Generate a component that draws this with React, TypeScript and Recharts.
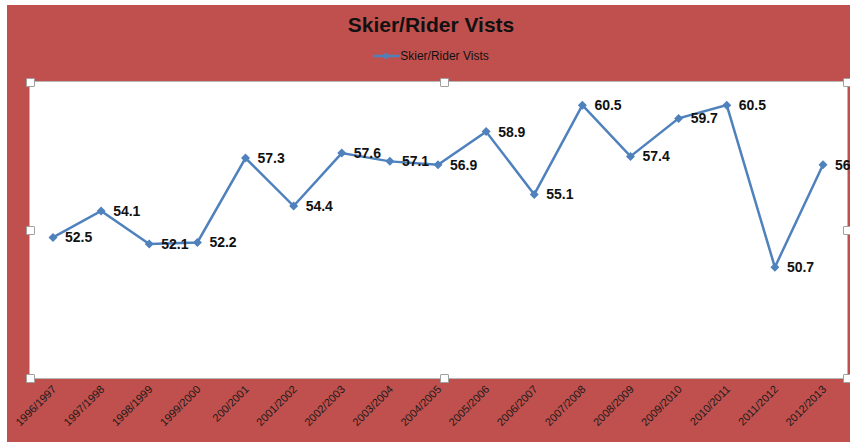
import { LineChart, Line, XAxis, YAxis, CartesianGrid, Legend, LabelList } from 'recharts';

const seasons = [
  '1996/1997', '1997/1998', '1998/1999', '1999/2000', '200/2001', '2001/2002',
  '2002/2003', '2003/2004', '2004/2005', '2005/2006', '2006/2007', '2007/2008',
  '2008/2009', '2009/2010', '2010/2011', '2011/2012', '2012/2013',
];
const visits = [52.5, 54.1, 52.1, 52.2, 57.3, 54.4, 57.6, 57.1, 56.9, 58.9, 55.1, 60.5, 57.4, 59.7, 60.5, 50.7, 56.9];

const SERIES_NAME = 'Skier/Rider Vists';
const BLUE = '#4F81BD';
const RED = '#C0504D';
const FONT = 'Arial, "Liberation Sans", sans-serif';

const data = seasons.map((season, i) => ({ season, visits: visits[i] }));

// plot area box (matches chart margins below)
const PLOT = { left: 30, top: 82, right: 847, bottom: 378 };

const Diamond = (props: any) => {
  const { cx, cy } = props;
  if (cx == null || cy == null) return null;
  const r = 4.5;
  return <path d={`M${cx},${cy - r}L${cx + r},${cy}L${cx},${cy + r}L${cx - r},${cy}Z`} fill={BLUE} />;
};

const RotatedTick = (props: any) => {
  const { x, y, payload } = props;
  return (
    <text
      x={x + 4}
      y={y + 4}
      transform={`rotate(-45, ${x + 4}, ${y + 4})`}
      textAnchor="end"
      fontSize={11}
      fontFamily={FONT}
      fill="#1a1a1a"
    >
      {payload.value}
    </text>
  );
};

const PointLabel = (props: any) => {
  const { x, y, value } = props;
  return (
    <text x={x + 12} y={y} dy="0.35em" fontSize={14} fontWeight="bold" fontFamily={FONT} fill="#111">
      {value}
    </text>
  );
};

const LegendContent = () => (
  <div style={{ display: 'flex', justifyContent: 'center', alignItems: 'center', fontFamily: FONT, fontSize: 12, color: '#111' }}>
    <svg width={26} height={10} style={{ marginRight: 1 }}>
      <line x1={0} y1={5} x2={26} y2={5} stroke={BLUE} strokeWidth={2.5} />
      <path d="M13,1.5L16.5,5L13,8.5L9.5,5Z" fill={BLUE} />
    </svg>
    <span>{SERIES_NAME}</span>
  </div>
);

const Handle = ({ x, y }: { x: number; y: number }) => (
  <div
    style={{
      position: 'absolute',
      left: x - 4,
      top: y - 4,
      width: 7,
      height: 7,
      background: '#fff',
      border: '1px solid #a0a0a0',
      borderRadius: 1,
    }}
  />
);

export default function App() {
  const midX = (PLOT.left + PLOT.right) / 2 + 5;
  const midY = (PLOT.top + PLOT.bottom) / 2;
  const handles = [
    [PLOT.left, PLOT.top], [midX, PLOT.top], [PLOT.right, PLOT.top],
    [PLOT.left, midY], [PLOT.right, midY],
    [PLOT.left, PLOT.bottom], [midX, PLOT.bottom], [PLOT.right, PLOT.bottom],
  ];

  return (
    <div style={{ position: 'absolute', left: 0, top: 0, width: 850, height: 442, background: '#fff', overflow: 'hidden' }}>
      <div style={{ position: 'absolute', left: 7, top: 5, width: 843, height: 437, background: RED }} />
      <div
        style={{
          position: 'absolute',
          left: PLOT.left,
          top: PLOT.top,
          width: PLOT.right - PLOT.left,
          height: PLOT.bottom - PLOT.top,
          background: '#fff',
          boxShadow: '0 0 0 1px #b8b8b8',
        }}
      />
      <div
        style={{
          position: 'absolute',
          left: 0,
          top: 13,
          width: 862,
          textAlign: 'center',
          fontFamily: FONT,
          fontWeight: 'bold',
          fontSize: 21,
          color: '#111',
        }}
      >
        {SERIES_NAME}
      </div>
      <div style={{ position: 'absolute', left: 0, top: 0 }}>
        <LineChart
          width={850}
          height={442}
          data={data}
          margin={{ top: PLOT.top, right: 850 - PLOT.right, bottom: 0, left: PLOT.left }}
        >
          <CartesianGrid horizontal={false} vertical={false} />
          <XAxis
            dataKey="season"
            interval={0}
            axisLine={false}
            tickLine={false}
            padding={{ left: 23, right: 24 }}
            tick={<RotatedTick />}
            height={442 - PLOT.bottom}
          />
          <YAxis hide domain={[44, 61.9]} />
          <Legend
            layout="horizontal"
            verticalAlign="middle"
            align="center"
            content={<LegendContent />}
            wrapperStyle={{ position: 'absolute', top: 49, left: 6, width: 850 }}
          />
          <Line
            type="linear"
            dataKey="visits"
            name={SERIES_NAME}
            stroke={BLUE}
            strokeWidth={2.5}
            dot={<Diamond />}
            activeDot={false}
            isAnimationActive={false}
          >
            <LabelList dataKey="visits" content={<PointLabel />} />
          </Line>
        </LineChart>
      </div>
      {handles.map(([x, y], i) => (
        <Handle key={i} x={x} y={y} />
      ))}
    </div>
  );
}
